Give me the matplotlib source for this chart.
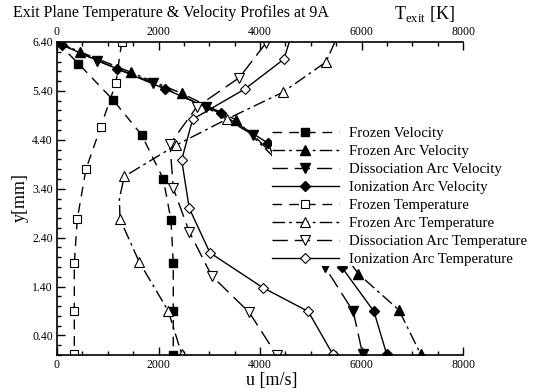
import matplotlib
matplotlib.use("Agg")
import matplotlib.pyplot as plt
from matplotlib.ticker import MultipleLocator, FixedLocator

plt.rcParams['font.family'] = ['Liberation Serif', 'DejaVu Serif']
plt.rcParams['mathtext.fontset'] = 'custom'
plt.rcParams['mathtext.rm'] = 'Liberation Serif'
plt.rcParams['lines.scale_dashes'] = False

# velocity profiles u [m/s] vs y [mm]
fv_u = [0, 420, 1109, 1668, 2094, 2246, 2291, 2291, 2291]
fv_y = [6.40, 5.96, 5.21, 4.50, 3.60, 2.76, 1.88, 0.89, 0.00]

fav_u = [0, 453, 1458, 2456, 3526, 4229, 4900, 5500, 5936, 6737, 7164]
fav_y = [6.40, 6.20, 5.78, 5.35, 4.81, 4.09, 3.20, 2.30, 1.66, 0.92, 0.02]

dav_u = [0, 781, 1885, 2935, 3867, 4229, 4600, 5000, 5279, 5837, 6022]
dav_y = [6.40, 6.02, 5.57, 5.07, 4.50, 4.12, 3.30, 2.50, 1.80, 0.89, 0.02]

iav_u = [92, 1188, 2128, 3224, 4163, 4229, 4800, 5300, 5608, 6245, 6495]
iav_y = [6.34, 5.85, 5.44, 4.94, 4.33, 4.15, 3.20, 2.40, 1.80, 0.89, 0.02]

# temperature profiles T_exit [K] vs y [mm]
ft_T = [1274, 1162, 861, 571, 400, 341, 341, 341]
ft_y = [6.39, 5.57, 4.66, 3.80, 2.78, 1.88, 0.89, 0.02]

fat_T = [5476, 5299, 4446, 3342, 2344, 1326, 1230, 1241, 1621, 2193, 2456]
fat_y = [6.40, 5.99, 5.37, 4.82, 4.29, 3.65, 3.20, 2.78, 1.90, 0.90, 0.02]

dat_T = [4111, 3592, 2752, 2226, 2291, 2606, 3047, 3789, 4328]
dat_y = [6.37, 5.67, 5.07, 4.31, 3.41, 2.52, 1.62, 0.87, 0.00]

iat_T = [4577, 4472, 3704, 2673, 2456, 2606, 3014, 4052, 4951, 5431]
iat_y = [6.40, 6.05, 5.44, 4.82, 3.99, 3.00, 2.09, 1.38, 0.89, 0.02]

y_ticks = [0.4, 1.4, 2.4, 3.4, 4.4, 5.4, 6.4]
x_ticks = [0, 2000, 4000, 6000, 8000]

short_dash = (0, (7, 5))
long_dash = (0, (11, 5))
dash_dot = (0, (9, 3, 2, 3))

fig = plt.figure(figsize=(5.36, 3.92), dpi=100)
ax = fig.add_axes([57/536, 37/392, 406/536, 313/392])

ms = 6.5
lw = 1.0
ax.plot(fv_u, fv_y, ls=short_dash, lw=lw, color='k', marker='s', ms=ms-0.5,
        mfc='k', mec='k', markevery=list(range(1, 9)), label='Frozen Velocity')
ax.plot(fav_u, fav_y, ls=dash_dot, lw=lw, color='k', marker='^', ms=ms,
        mfc='k', mec='k', markevery=[1, 2, 3, 4, 8, 9, 10], label='Frozen Arc Velocity')
ax.plot(dav_u, dav_y, ls=long_dash, lw=lw, color='k', marker='v', ms=ms,
        mfc='k', mec='k', markevery=[1, 2, 3, 4, 8, 9, 10], label='Dissociation Arc Velocity')
ax.plot(iav_u, iav_y, ls='-', lw=lw, color='k', marker='D', ms=ms-1,
        mfc='k', mec='k', markevery=[0, 1, 2, 3, 4, 8, 9, 10], label='Ionization Arc Velocity')
ax.plot(ft_T, ft_y, ls=short_dash, lw=lw, color='k', marker='s', ms=ms-0.5,
        mfc='white', mec='k', mew=0.8, label='Frozen Temperature')
ax.plot(fat_T, fat_y, ls=dash_dot, lw=lw, color='k', marker='^', ms=ms,
        mfc='white', mec='k', mew=0.8, markevery=[1, 2, 3, 4, 5, 7, 8, 9, 10],
        label='Frozen Arc Temperature')
ax.plot(dat_T, dat_y, ls=long_dash, lw=lw, color='k', marker='v', ms=ms,
        mfc='white', mec='k', mew=0.8, label='Dissociation Arc Temperature')
ax.plot(iat_T, iat_y, ls='-', lw=lw, color='k', marker='D', ms=ms-1,
        mfc='white', mec='k', mew=0.8, markevery=list(range(1, 10)),
        label='Ionization Arc Temperature')

ax.set_xlim(0, 8000)
ax.set_ylim(0, 6.4)
ax.spines['right'].set_visible(False)
for s in ['left', 'bottom', 'top']:
    ax.spines[s].set_linewidth(1.2)

ax.xaxis.set_major_locator(FixedLocator(x_ticks))
ax.xaxis.set_minor_locator(MultipleLocator(500))
ax.yaxis.set_major_locator(FixedLocator(y_ticks))
ax.yaxis.set_minor_locator(MultipleLocator(0.2))
ax.set_yticklabels(['%.2f' % v for v in y_ticks])
ax.tick_params(which='both', direction='in', top=True, labeltop=True,
               right=False, labelsize=8.5, width=1)
ax.tick_params(which='major', length=6, pad=3)
ax.tick_params(which='minor', length=3)

leg = ax.legend(loc='upper left', bbox_to_anchor=(272/536, 1 - 127/392),
                bbox_transform=fig.transFigure, fontsize=10.7, frameon=True,
                fancybox=False, framealpha=1, edgecolor='none', facecolor='white',
                borderpad=0, borderaxespad=0, handlelength=4.5, handletextpad=0.65,
                labelspacing=0.31)

fig.text(13/536, 1 - 13/392, 'Exit Plane Temperature & Velocity Profiles at 9A',
         fontsize=11.5, ha='left', va='center')
fig.text(424/536, 1 - 14/392, r'T$_{\mathrm{exit}}$ [K]', fontsize=13,
         ha='center', va='center')
fig.text(272/536, 1 - 380/392, 'u [m/s]', fontsize=13, ha='center', va='center')
fig.text(20/536, 1 - 197/392, 'y[mm]', fontsize=13, ha='center', va='center',
         rotation=90)

fig.savefig('out.png', dpi=100)
